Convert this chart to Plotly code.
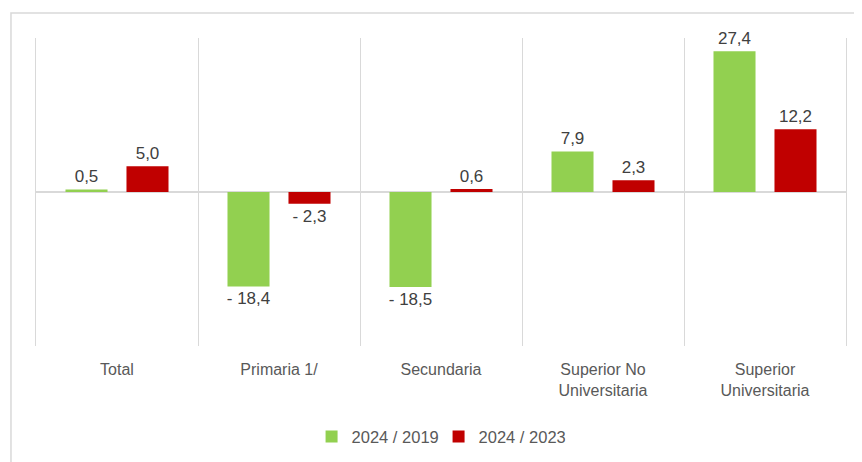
import plotly.graph_objects as go

categories = ["Total", "Primaria 1/", "Secundaria", "Superior No<br>Universitaria", "Superior<br>Universitaria"]
series_names = ["2024 / 2019", "2024 / 2023"]
values_2019 = [0.5, -18.4, -18.5, 7.9, 27.4]
values_2023 = [5.0, -2.3, 0.6, 2.3, 12.2]
colors = ["#92D050", "#C00000"]

FONT = "Liberation Sans, Arial, sans-serif"


def fmt(v):
    s = f"{abs(v):.1f}".replace(".", ",")
    return ("- " + s) if v < 0 else s


fig = go.Figure()
for name, vals, col in zip(series_names, [values_2019, values_2023], colors):
    fig.add_trace(go.Bar(
        x=categories, y=vals, name=name,
        marker=dict(color=col, line=dict(width=0)),
        text=[fmt(v) for v in vals],
        textposition="outside",
        constraintext="none",
        cliponaxis=False,
        textfont=dict(family=FONT, size=17, color="#404040"),
    ))

fig.update_layout(
    width=854, height=454,
    margin=dict(l=28, r=16, t=30, b=116, autoexpand=False),
    paper_bgcolor="white", plot_bgcolor="white",
    barmode="group", bargap=0.247, bargroupgap=0.311,
    font=dict(family=FONT, size=16.5, color="#595959"),
    showlegend=True,
    legend=dict(orientation="h", x=0.497, xanchor="center", y=-0.295, yanchor="middle",
                font=dict(family=FONT, size=16.5, color="#595959"),
                itemwidth=30, entrywidth=82, entrywidthmode="pixels", traceorder="normal"),
    shapes=[dict(type="rect", xref="paper", yref="paper",
                 x0=-0.0309, x1=1.05, y0=-0.45, y1=1.081,
                 line=dict(color="#D9D9D9", width=1.5), fillcolor="rgba(0,0,0,0)", layer="below")],
)
fig.update_xaxes(
    type="category", tickson="boundaries", showgrid=True, gridcolor="#D9D9D9", gridwidth=1,
    ticks="", showline=False, ticklabelstandoff=12,
    tickfont=dict(family=FONT, size=16, color="#595959"),
)
fig.update_yaxes(
    range=[-30, 30], showgrid=False, showticklabels=False, ticks="",
    zeroline=True, zerolinecolor="#D9D9D9", zerolinewidth=1.5,
    showline=True, mirror=True, linecolor="#D9D9D9", linewidth=1,
)

fig.write_html("out.html")
